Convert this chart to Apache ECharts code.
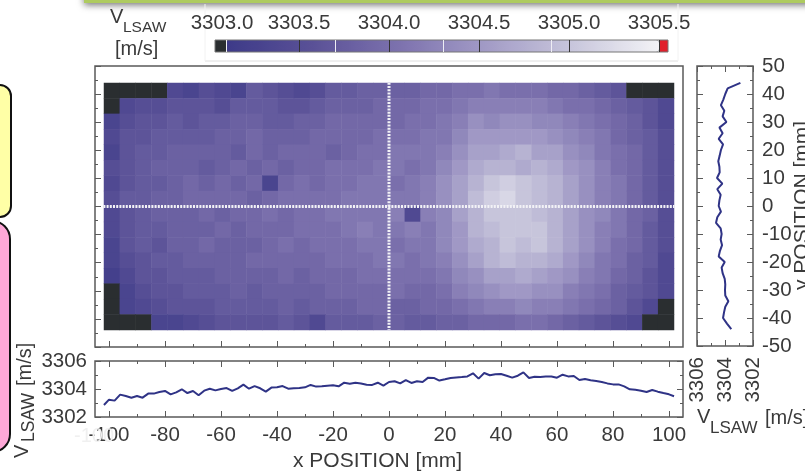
<!DOCTYPE html>
<html><head><meta charset="utf-8">
<style>html,body{margin:0;padding:0;background:#fff;overflow:hidden}#c{width:805px;height:471px}</style>
<script src="https://cdn.jsdelivr.net/npm/echarts@6/dist/echarts.min.js"></script></head>
<body><div id="c"></div>
<script>
const xTicks=[-100,-80,-60,-40,-20,0,20,40,60,80,100];
const xMinorTicks=[-90,-70,-50,-30,-10,10,30,50,70,90];
const yTicks=[-50,-40,-30,-20,-10,0,10,20,30,40,50];
const yMinorTicks=[-45,-35,-25,-15,-5,5,15,25,35,45];
const vTicks=[3302,3304,3306];
const vMinorTicks=[3303,3305];
const barLabelPlaces=[3303.072,3303.5,3304,3304.5,3305,3305.5];
const barDarkTicks=[3303.5,3304,3304.5,3305,3305.5];
const barLightTicks=[3303.094,3303.7,3304.3,3304.9];
const rampColors=['#3d3a88','#5a5197','#7d72ae','#a29bc6','#c8c6dc','#f3f3f6'];

const profileXPos=[-101.8,-100,-98,-96,-94,-92,-90,-88,-86,-84,-82,-80,-78,-76,-74,-72,-70,-68,-66,-64,-62,-60,-58,-56,-54,-52,-50,-48,-46,-44,-42,-40,-38,-36,-34,-32,-30,-28,-26,-24,-22,-20,-18,-16,-14,-12,-10,-8,-6,-4,-2,0,2,4,6,8,10,12,14,16,18,20,22,24,26,28,30,32,34,36,38,40,42,44,46,48,50,52,54,56,58,60,62,64,66,68,70,72,74,76,78,80,82,84,86,88,90,92,94,96,98,100,101.8];
const profileXVal=[3302.86,3303.24,3303.17,3303.6,3303.5,3303.38,3303.5,3303.38,3303.67,3303.67,3303.79,3303.86,3303.62,3303.76,3303.98,3303.71,3303.86,3303.55,3303.88,3304.02,3303.9,3304,3304.07,3303.86,3304.05,3304.31,3304.02,3304.21,3304.05,3303.81,3304.1,3304.12,3304.21,3304.02,3304.05,3304.07,3304.12,3304.29,3304.17,3304.19,3304.24,3304.26,3304.19,3304.45,3304.38,3304.45,3304.4,3304.31,3304.29,3304.45,3304.24,3304.5,3304.55,3304.4,3304.64,3304.43,3304.55,3304.5,3304.81,3304.79,3304.6,3304.69,3304.79,3304.83,3304.86,3304.9,3305.12,3304.74,3305.14,3304.98,3305.05,3305.07,3304.95,3304.81,3304.95,3305.19,3304.79,3304.88,3304.86,3304.9,3304.9,3304.81,3305.02,3304.9,3304.93,3304.64,3304.71,3304.62,3304.57,3304.5,3304.4,3304.33,3304.33,3304.19,3303.98,3303.95,3303.88,3303.79,3303.93,3303.81,3303.71,3303.62,3303.48];
const profileYPos=[44,42,40,38,36,34,32,30,28,26,24,22,20,18,16,14,12,10,8,6,4,2,0,-2,-4,-6,-8,-10,-12,-14,-16,-18,-20,-22,-24,-26,-28,-30,-32,-34,-36,-38,-40,-42,-44];
const profileYVal=[3302.9,3303.81,3303.98,3304.12,3304.29,3304.05,3304.17,3303.9,3304.4,3304.17,3304.45,3304.14,3304.29,3304.38,3304.48,3304.4,3304.38,3304.57,3304.19,3304.55,3304.31,3304.4,3304.45,3304.29,3304.55,3304.64,3304.31,3304.24,3304.31,3304.21,3304.36,3304.45,3304.02,3304.24,3304.17,3304.02,3303.98,3304,3303.98,3303.76,3303.98,3304.07,3304.14,3303.86,3303.55];
const crossX=[[-102,0],[102,0]];
const crossY=[[0,44],[0,-44]];

// map readings: tenths of m/s above 3303, top row first, left column first
const mapRows=[
[0,0,0,0,4,3,5,4,3,7,6,5,4,5,7,7,8,8,8,8,9,9,10,10,11,10,10,10,9,9,8,7,6,0,0,0],
[0,4,5,5,6,6,6,5,7,7,7,6,6,7,8,8,8,9,9,9,10,10,11,12,12,12,12,12,11,10,10,9,8,7,6,4],
[3,5,6,6,7,6,7,7,8,8,7,7,8,8,9,9,9,9,9,10,10,11,12,14,13,14,14,13,13,12,11,10,9,8,6,4],
[4,6,6,7,7,7,7,8,8,9,8,8,8,9,9,9,9,10,10,10,11,11,13,15,15,15,15,15,14,13,12,11,9,8,7,5],
[3,6,7,7,8,8,8,8,7,9,8,9,9,9,8,9,10,10,11,11,11,12,14,16,16,17,18,16,16,14,13,11,10,9,7,5],
[5,6,7,8,8,8,7,8,9,8,9,8,9,9,10,10,10,11,11,10,11,13,15,17,18,18,17,18,17,15,14,12,10,9,7,5],
[4,6,7,7,8,9,8,9,8,9,3,9,10,9,10,10,11,11,10,11,12,14,16,18,20,21,20,19,18,16,14,12,11,9,7,5],
[5,7,7,8,8,9,9,9,9,8,9,10,10,10,10,11,11,11,11,11,12,14,16,19,21,22,20,19,18,16,14,12,11,9,7,5],
[4,6,7,8,8,8,9,8,9,9,10,9,10,10,11,11,11,11,12,4,12,13,16,18,20,20,20,19,18,16,14,13,11,9,8,5],
[4,6,7,7,8,8,8,9,8,9,9,9,10,10,10,11,12,11,11,12,11,13,15,18,19,20,20,20,18,16,14,12,11,9,7,5],
[3,6,7,6,8,8,9,8,8,8,9,10,9,10,10,10,11,11,10,11,11,13,15,17,18,20,19,20,18,16,14,12,10,9,7,5],
[3,5,6,7,7,8,8,8,8,9,9,9,9,9,10,10,10,11,11,10,11,12,14,16,18,19,18,18,17,15,13,11,10,8,7,4],
[2,4,6,6,7,7,7,8,8,8,8,9,8,9,9,9,10,10,10,10,10,11,13,14,16,16,17,16,15,14,12,11,9,8,6,4],
[0,3,5,6,6,7,7,7,8,7,8,8,8,8,9,9,9,9,10,9,9,10,12,13,14,15,15,14,14,12,11,10,8,7,6,4],
[0,3,4,5,6,6,6,7,7,7,7,8,7,8,8,8,9,9,8,8,9,9,10,11,12,12,13,12,12,11,10,9,8,6,4,0],
[0,0,0,3,3,4,5,6,6,6,6,7,6,4,7,7,7,8,8,7,7,8,8,9,9,9,10,10,9,8,7,6,5,4,0,0]
];
const mapData=[];
mapRows.forEach((row,r)=>row.forEach((v,c)=>mapData.push([c,r,3303+v/10])));

const INK='#3a3a3a', EDGE='#5a5a5a';
const FONT='"Liberation Sans",Arial,sans-serif';
const PI2=Math.PI/2;
const plain=v=>String(v);

function ticksAxis(grid,pos,min,max,ticks,len,extra){
  return Object.assign({type:'value',gridIndex:grid,position:pos,min,max,
    axisLine:{show:false,onZero:false},splitLine:{show:false},
    axisLabel:{show:false},
    axisTick:{show:true,inside:true,length:len,customValues:ticks,lineStyle:{color:EDGE,width:1}}},extra||{});
}
function labelled(margin,values){
  return {axisLabel:{show:true,customValues:values,margin,color:INK,fontFamily:FONT,fontSize:20.5,formatter:plain,hideOverlap:false,showMinLabel:true,showMaxLabel:true}};
}
const xX=[-105,105], yY=[-50,50], vV=[3302,3306];
const xAxes=[
 {type:'category',gridIndex:0,show:false,data:mapRows[0].map((_,i)=>i)},
 ticksAxis(1,'bottom',xX[0],xX[1],xTicks,6),
 ticksAxis(1,'bottom',xX[0],xX[1],xMinorTicks,3),
 ticksAxis(2,'bottom',xX[0],xX[1],xTicks,6,labelled(8,xTicks)),
 ticksAxis(2,'bottom',xX[0],xX[1],xMinorTicks,3),
 ticksAxis(2,'top',xX[0],xX[1],xTicks,6),
 ticksAxis(2,'top',xX[0],xX[1],xMinorTicks,3),
 ticksAxis(3,'bottom',vV[0],vV[1],vTicks,6,{inverse:true,axisLabel:{show:true,customValues:vTicks,rotate:90,margin:11,color:INK,fontFamily:FONT,fontSize:20.5,formatter:plain}}),
 ticksAxis(3,'bottom',vV[0],vV[1],vMinorTicks,3,{inverse:true}),
 ticksAxis(3,'top',vV[0],vV[1],vTicks,6,{inverse:true}),
 ticksAxis(3,'top',vV[0],vV[1],vMinorTicks,3,{inverse:true}),
 {type:'value',gridIndex:4,position:'top',min:3303.033,max:3305.55,z:6,
  axisLine:{show:false,onZero:false},splitLine:{show:false},
  axisTick:{show:true,inside:true,length:12,customValues:barDarkTicks,lineStyle:{color:'#333',width:1}},
  axisLabel:{show:true,customValues:barLabelPlaces,margin:6,color:INK,fontFamily:FONT,fontSize:20.5,
    formatter:v=>(Math.round(v*2)/2).toFixed(1)}},
 {type:'value',gridIndex:4,position:'bottom',min:3303.033,max:3305.55,z:6,
  axisLine:{show:false,onZero:false},splitLine:{show:false},axisLabel:{show:false},
  axisTick:{show:true,inside:true,length:12,customValues:barLightTicks,lineStyle:{color:'#eeeef4',width:1}}}
];
const yAxes=[
 {type:'category',gridIndex:0,show:false,inverse:true,data:mapRows.map((_,i)=>i)},
 ticksAxis(1,'left',yY[0],yY[1],yTicks,6),
 ticksAxis(1,'left',yY[0],yY[1],yMinorTicks,3),
 ticksAxis(2,'left',vV[0],vV[1],vTicks,6,labelled(8,vTicks)),
 ticksAxis(2,'left',vV[0],vV[1],vMinorTicks,3),
 ticksAxis(2,'right',vV[0],vV[1],vTicks,6),
 ticksAxis(2,'right',vV[0],vV[1],vMinorTicks,3),
 ticksAxis(3,'right',yY[0],yY[1],yTicks,6,labelled(9,yTicks)),
 ticksAxis(3,'right',yY[0],yY[1],yMinorTicks,3),
 ticksAxis(3,'left',yY[0],yY[1],yTicks,6),
 ticksAxis(3,'left',yY[0],yY[1],yMinorTicks,3),
 {type:'value',gridIndex:4,show:false,min:0,max:1}
];
function txt(text,x,y,size,rot,color){
  return {type:'text',x,y,rotation:rot||0,z:20,silent:true,
    style:{text,fontFamily:FONT,fontSize:size,fill:color||INK,align:'left',verticalAlign:'middle'}};
}
const chart=echarts.init(document.getElementById('c'),null,{renderer:'canvas'});
chart.setOption({
 animation:false,backgroundColor:'#fff',
 grid:[
  {left:104,top:83,width:570,height:247,containLabel:false},
  {left:95,top:66,width:588,height:281,show:true,borderColor:EDGE,borderWidth:1.5,backgroundColor:'transparent'},
  {left:95,top:361,width:588,height:56,show:true,borderColor:EDGE,borderWidth:1.5,backgroundColor:'transparent'},
  {left:697,top:66,width:56,height:280,show:true,borderColor:EDGE,borderWidth:1.5,backgroundColor:'transparent'},
  {left:215,top:40,width:453,height:12,show:true,z:6,borderColor:'#777',borderWidth:1,backgroundColor:'transparent'}
 ],
 xAxis:xAxes,yAxis:yAxes,
 visualMap:[{type:'continuous',seriesIndex:0,min:3303.075,max:3305.5,range:[3303.08,3305.5],orient:'horizontal',
   left:226,top:40,padding:0,itemWidth:12,itemHeight:433,text:null,showLabel:false,calculable:false,hoverLink:false,z:1,
   inRange:{color:rampColors},outOfRange:{color:'#2a2e30'}}],
 tooltip:{show:false},
 series:[
  {type:'heatmap',xAxisIndex:0,yAxisIndex:0,data:mapData,progressive:0,z:1,itemStyle:{borderWidth:0},emphasis:{disabled:true}},
  {type:'line',xAxisIndex:1,yAxisIndex:1,data:crossX,symbol:'none',silent:true,z:3,lineStyle:{color:'#f2f2f6',width:3,type:[2,1.2]}},
  {type:'line',xAxisIndex:1,yAxisIndex:1,data:crossY,symbol:'none',silent:true,z:3,lineStyle:{color:'#f2f2f6',width:3,type:[2,1.2]}},
  {type:'line',xAxisIndex:3,yAxisIndex:3,data:profileXPos.map((p,i)=>[p,profileXVal[i]]),symbol:'none',silent:true,z:3,lineStyle:{color:'#2f3386',width:2}},
  {type:'line',xAxisIndex:7,yAxisIndex:7,data:profileYPos.map((p,i)=>[profileYVal[i],p]),symbol:'none',silent:true,z:3,lineStyle:{color:'#2f3386',width:2}}
 ],
 graphic:[
  {type:'rect',z:0,silent:true,shape:{x:84,y:-8,width:760,height:11},style:{fill:'#aecb5f',shadowBlur:7,shadowColor:'rgba(0,0,0,.55)',shadowOffsetY:2}},
  {type:'line',z:0,silent:true,shape:{x1:205,y1:61,x2:678,y2:61},style:{stroke:'#dedede',lineWidth:1}},
  {type:'line',z:0,silent:true,shape:{x1:205,y1:4,x2:205,y2:61},style:{stroke:'#f2f2f2',lineWidth:1}},
  {type:'line',z:0,silent:true,shape:{x1:678,y1:4,x2:678,y2:61},style:{stroke:'#f2f2f2',lineWidth:1}},
  {type:'rect',z:0,silent:true,shape:{x:-30,y:85,width:41,height:132,r:11},style:{fill:'#ffffa6',stroke:'#111',lineWidth:2}},
  {type:'rect',z:0,silent:true,shape:{x:-40,y:221,width:50,height:231,r:18},style:{fill:'#ffa8d8',stroke:'#111',lineWidth:2}},
  {type:'rect',z:5,silent:true,shape:{x:215,y:40,width:11,height:12},style:{fill:'#2a2e30'}},
  {type:'rect',z:5,silent:true,shape:{x:659,y:40,width:9,height:12},style:{fill:'#e01f2b'}},
  txt('V',110,17,20),txt('LSAW',123,28,15.5),txt('[m/s]',115,49,20),
  txt('V',22.5,458,20,PI2),txt('LSAW',29,442,17.5,PI2),txt('[m/s]',25,386,20,PI2),
  txt('V',697,417,20),txt('LSAW',710,428,17),txt('[m/s]',765,418,20),
  txt('x POSITION [mm]',293,461,21),
  txt('y POSITION [mm]',802.5,290,21,PI2),
  txt('-100',74,436,20,0,'#f0f0f0')
 ]
});
</script></body></html>
